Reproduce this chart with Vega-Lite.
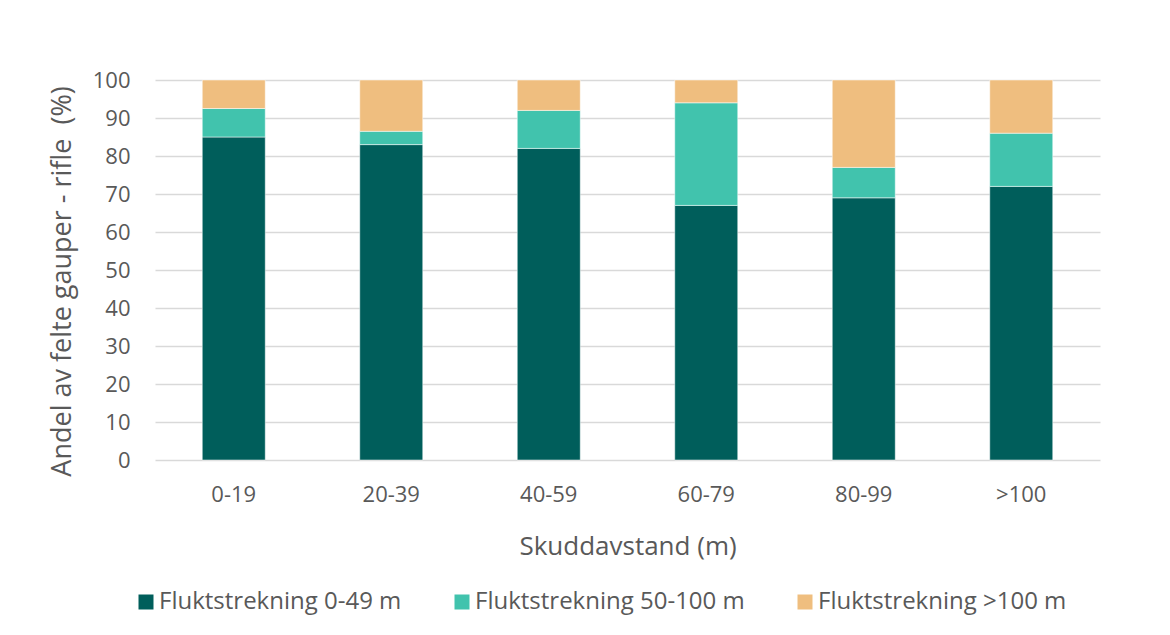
{
  "$schema": "https://vega.github.io/schema/vega-lite/v6.json",
  "width": 945,
  "height": 380,
  "autosize": {"type": "none"},
  "padding": {"left": 155, "top": 80, "right": 70, "bottom": 175},
  "background": "white",
  "data": {
    "values": [
      {"avstand": "0-19", "flukt": "Fluktstrekning 0-49 m", "rank": 1, "andel": 85},
      {"avstand": "0-19", "flukt": "Fluktstrekning 50-100 m", "rank": 2, "andel": 7.5},
      {"avstand": "0-19", "flukt": "Fluktstrekning >100 m", "rank": 3, "andel": 7.5},
      {"avstand": "20-39", "flukt": "Fluktstrekning 0-49 m", "rank": 1, "andel": 83},
      {"avstand": "20-39", "flukt": "Fluktstrekning 50-100 m", "rank": 2, "andel": 3.5},
      {"avstand": "20-39", "flukt": "Fluktstrekning >100 m", "rank": 3, "andel": 13.5},
      {"avstand": "40-59", "flukt": "Fluktstrekning 0-49 m", "rank": 1, "andel": 82},
      {"avstand": "40-59", "flukt": "Fluktstrekning 50-100 m", "rank": 2, "andel": 10},
      {"avstand": "40-59", "flukt": "Fluktstrekning >100 m", "rank": 3, "andel": 8},
      {"avstand": "60-79", "flukt": "Fluktstrekning 0-49 m", "rank": 1, "andel": 67},
      {"avstand": "60-79", "flukt": "Fluktstrekning 50-100 m", "rank": 2, "andel": 27},
      {"avstand": "60-79", "flukt": "Fluktstrekning >100 m", "rank": 3, "andel": 6},
      {"avstand": "80-99", "flukt": "Fluktstrekning 0-49 m", "rank": 1, "andel": 69},
      {"avstand": "80-99", "flukt": "Fluktstrekning 50-100 m", "rank": 2, "andel": 8},
      {"avstand": "80-99", "flukt": "Fluktstrekning >100 m", "rank": 3, "andel": 23},
      {"avstand": ">100", "flukt": "Fluktstrekning 0-49 m", "rank": 1, "andel": 72},
      {"avstand": ">100", "flukt": "Fluktstrekning 50-100 m", "rank": 2, "andel": 14},
      {"avstand": ">100", "flukt": "Fluktstrekning >100 m", "rank": 3, "andel": 14}
    ]
  },
  "mark": {"type": "bar", "stroke": "white", "strokeWidth": 0.5},
  "encoding": {
    "x": {
      "field": "avstand",
      "type": "nominal",
      "sort": ["0-19", "20-39", "40-59", "60-79", "80-99", ">100"],
      "scale": {"paddingInner": 0.6, "paddingOuter": 0.3},
      "axis": {
        "title": "Skuddavstand (m)",
        "labelAngle": 0,
        "ticks": false,
        "domain": false,
        "labelPadding": 24,
        "titlePadding": 28
      }
    },
    "y": {
      "field": "andel",
      "type": "quantitative",
      "stack": "zero",
      "scale": {"domain": [0, 100], "nice": false},
      "axis": {
        "title": "Andel av felte gauper - rifle \u00a0(%)",
        "values": [0, 10, 20, 30, 40, 50, 60, 70, 80, 90, 100],
        "ticks": false,
        "domain": false,
        "labelPadding": 25,
        "titlePadding": 16,
        "titleFontSize": 27,
        "titleY": 201
      }
    },
    "color": {
      "field": "flukt",
      "type": "nominal",
      "sort": ["Fluktstrekning 0-49 m", "Fluktstrekning 50-100 m", "Fluktstrekning >100 m"],
      "scale": {
        "domain": ["Fluktstrekning 0-49 m", "Fluktstrekning 50-100 m", "Fluktstrekning >100 m"],
        "range": ["#005e5b", "#41c3ad", "#efbe7f"]
      },
      "legend": {
        "title": null,
        "orient": "none",
        "direction": "horizontal",
        "legendX": -21,
        "legendY": 510,
        "symbolType": "square",
        "symbolSize": 225,
        "symbolStrokeWidth": 0,
        "labelOffset": 1,
        "columnPadding": 48,
        "labelFontSize": 24,
        "labelLimit": 400
      }
    },
    "order": {"field": "rank", "type": "quantitative"}
  },
  "config": {
    "font": "Open Sans",
    "view": {"stroke": null},
    "axis": {
      "labelFont": "Open Sans",
      "titleFont": "Open Sans",
      "labelFontSize": 22,
      "titleFontSize": 26,
      "titleFontWeight": "normal",
      "labelColor": "#595959",
      "titleColor": "#595959",
      "gridColor": "#d9d9d9",
      "gridWidth": 1.3
    },
    "legend": {
      "labelFont": "Open Sans",
      "labelColor": "#595959"
    }
  }
}
